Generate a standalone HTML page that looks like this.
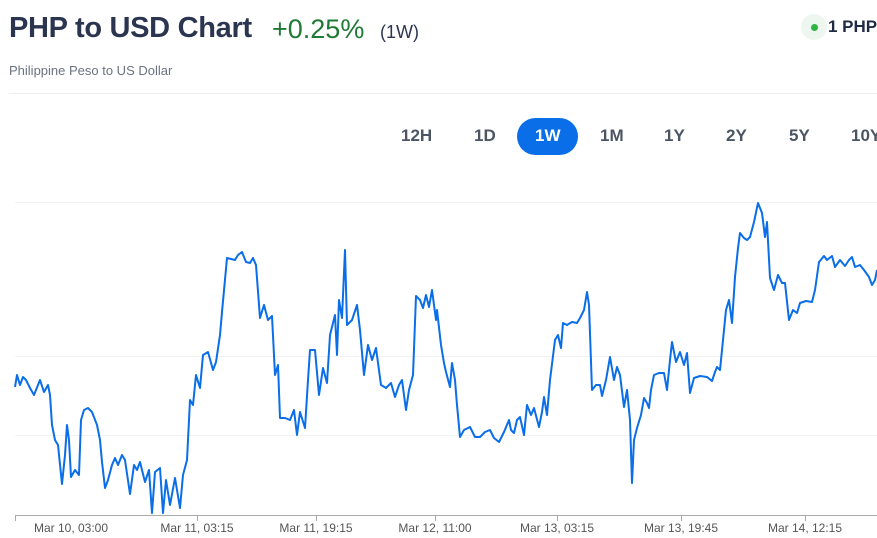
<!DOCTYPE html>
<html><head><meta charset="utf-8"><style>
body{margin:0;width:877px;height:538px;overflow:hidden;background:#fff;font-family:"Liberation Sans",sans-serif;position:relative}
.a{position:absolute;white-space:nowrap}
</style></head><body>
<div class="a" style="left:9px;top:12px;font-size:29px;font-weight:bold;color:#2b3550;letter-spacing:-0.3px">PHP to USD Chart</div>
<div class="a" style="left:272px;top:14px;font-size:27px;color:#1e7b36">+0.25%</div>
<div class="a" style="left:380px;top:22px;font-size:18px;color:#2b3550">(1W)</div>
<div class="a" style="left:9px;top:63px;font-size:13px;color:#6b7280">Philippine Peso to US Dollar</div>
<div class="a" style="left:801px;top:14px;width:26px;height:26px;border-radius:13px;background:#eef7ef"></div>
<div class="a" style="left:811px;top:24px;width:7px;height:7px;border-radius:4px;background:#2fb344"></div>
<div class="a" style="left:828px;top:17px;font-size:17px;font-weight:bold;color:#1f2a44">1 PHP</div>
<div class="a" style="left:9px;top:93px;width:868px;height:1px;background:#eceef1"></div>
<div class="a" style="left:517px;top:118px;width:61px;height:37px;border-radius:19px;background:#0a6ee8"></div>
<div class="a" style="top:126px;left:0;width:877px;font-size:17px;font-weight:bold;color:#4b5563">
<span class="a" style="left:401px">12H</span><span class="a" style="left:474px">1D</span><span class="a" style="left:535px;color:#fff">1W</span><span class="a" style="left:600px">1M</span><span class="a" style="left:664px">1Y</span><span class="a" style="left:726px">2Y</span><span class="a" style="left:789px">5Y</span><span class="a" style="left:851px">10Y</span></div>
<svg class="a" style="left:0;top:0" width="877" height="538">
<g stroke="#f1f2f4" stroke-width="1"><line x1="15" y1="202.5" x2="877" y2="202.5"/><line x1="15" y1="356.5" x2="877" y2="356.5"/><line x1="15" y1="435.5" x2="877" y2="435.5"/></g>
<line x1="15" y1="515.5" x2="877" y2="515.5" stroke="#aaa" stroke-width="1"/>
<g stroke="#aaa"><line x1="15.5" y1="515" x2="15.5" y2="521"/><line x1="197.5" y1="515" x2="197.5" y2="521"/><line x1="316.5" y1="515" x2="316.5" y2="521"/><line x1="435.5" y1="515" x2="435.5" y2="521"/><line x1="557.5" y1="515" x2="557.5" y2="521"/><line x1="681.5" y1="515" x2="681.5" y2="521"/><line x1="805.5" y1="515" x2="805.5" y2="521"/></g>
<g font-size="12" fill="#555" text-anchor="middle" font-family="Liberation Sans,sans-serif">
<text x="71" y="532">Mar 10, 03:00</text><text x="197" y="532">Mar 11, 03:15</text><text x="316" y="532">Mar 11, 19:15</text><text x="435" y="532">Mar 12, 11:00</text><text x="557" y="532">Mar 13, 03:15</text><text x="681" y="532">Mar 13, 19:45</text><text x="805" y="532">Mar 14, 12:15</text></g>
<polyline fill="none" stroke="#0a6ee8" stroke-width="2" stroke-linejoin="round" points="15,387 17,375 20,385 23,377 26,380 30,388 34,395 38,385 40,380 44,392 48,385 50,395 52,425 55,440 58,445 62,484 65,455 67,425 69,440 71,477 75,470 79,475 81,420 84,410 88,408 92,412 97,425 100,440 102,462 105,488 108,480 112,465 115,458 118,465 122,455 125,460 130,494 134,465 137,470 140,462 145,482 149,470 152,513 155,472 160,468 163,513 166,480 170,505 175,478 180,508 183,475 187,460 190,400 193,405 196,375 200,388 203,355 208,352 213,370 216,362 220,335 222,312 227,258 235,260 238,255 242,252 246,262 250,263 253,258 256,265 260,318 264,305 268,320 272,316 275,375 278,365 280,418 285,418 290,420 294,410 297,435 300,412 305,428 308,380 310,350 315,350 319,395 323,368 327,383 330,335 335,315 337,355 339,300 342,318 345,250 347,325 352,320 357,305 360,330 364,375 368,345 372,360 376,348 381,385 386,388 391,383 395,397 399,385 402,380 406,410 409,390 413,375 416,296 420,300 423,308 426,295 429,307 432,290 436,320 437,310 441,345 444,363 446,372 450,387 452,363 455,380 457,405 460,437 464,430 470,427 475,437 480,437 485,432 490,430 494,438 499,442 504,432 509,420 511,430 514,433 517,420 520,417 524,435 527,405 531,415 534,408 539,427 542,412 544,397 547,415 550,380 555,340 558,335 561,348 563,323 567,325 572,322 577,323 580,318 584,310 587,292 589,305 592,390 596,385 600,385 602,396 606,380 610,357 614,380 617,367 620,375 624,407 627,390 630,420 632,483 634,440 637,428 641,415 644,398 647,403 649,408 651,390 654,375 659,373 664,373 667,390 670,360 672,342 676,362 680,352 684,365 687,353 690,393 694,378 700,376 707,377 712,381 715,372 717,367 720,370 724,330 726,310 729,300 732,323 735,277 738,248 740,233 744,238 747,240 750,237 754,222 758,203 762,213 765,237 767,222 770,278 774,290 778,275 782,283 785,283 789,320 793,310 797,313 800,303 806,301 812,302 815,290 819,262 824,256 827,260 832,256 835,267 840,260 845,266 849,260 852,257 855,267 860,265 864,270 869,277 872,285 875,280 877,270"/>
</svg>
</body></html>
